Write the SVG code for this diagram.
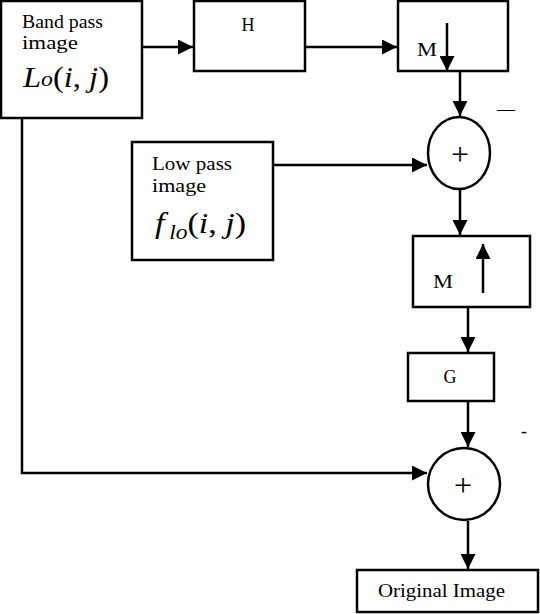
<svg xmlns="http://www.w3.org/2000/svg" width="540" height="614" viewBox="0 0 540 614">
<style>
.box{fill:#fff;stroke:#000;stroke-width:2.5}
.ln{fill:none;stroke:#000;stroke-width:2.5}
.t{font-family:"Liberation Serif",serif;font-size:18px;fill:#000}
.p{font-family:"Liberation Serif",serif;font-size:32px;fill:#000}
.m{font-family:"Liberation Serif",serif;font-style:italic;font-size:29px;fill:#000}
</style>
<defs>
<marker id="ah" viewBox="0 0 10 10" refX="10" refY="5" markerWidth="6" markerHeight="6" orient="auto" markerUnits="strokeWidth">
<path d="M0,0 L10,5 L0,10 z" fill="#000"/>
</marker>
</defs>
<rect width="540" height="614" fill="#fff"/>
<g id="connectors">
<path class="ln" d="M142,47 H193" marker-end="url(#ah)"/>
<path class="ln" d="M305,47 H397" marker-end="url(#ah)"/>
<path class="ln" d="M460,71 V116" marker-end="url(#ah)"/>
<path class="ln" d="M273,165 H427" marker-end="url(#ah)"/>
<path class="ln" d="M460,189 V235" marker-end="url(#ah)"/>
<path class="ln" d="M468,307 V352" marker-end="url(#ah)"/>
<path class="ln" d="M468,401 V447" marker-end="url(#ah)"/>
<path class="ln" d="M22,118 V473 H427" marker-end="url(#ah)"/>
<path class="ln" d="M468,521 V569" marker-end="url(#ah)"/>
</g>
<g id="bandpass">
<rect class="box" x="1" y="1" width="141" height="117"/>
<text class="t" x="22" y="28" textLength="81" lengthAdjust="spacingAndGlyphs">Band pass</text>
<text class="t" x="22" y="49" textLength="56" lengthAdjust="spacingAndGlyphs">image</text>
<text class="m" x="23" y="87" textLength="86" lengthAdjust="spacingAndGlyphs">L<tspan font-size="21" dy="-1">o</tspan><tspan font-style="normal" dy="1">(</tspan>i<tspan font-style="normal">,</tspan> j<tspan font-style="normal">)</tspan></text>
</g>
<g id="H">
<rect class="box" x="194" y="1" width="111" height="70"/>
<text class="t" x="248" y="31" text-anchor="middle">H</text>
</g>
<g id="Mdown">
<rect class="box" x="398" y="1" width="110" height="70"/>
<text class="t" x="417" y="56" textLength="20" lengthAdjust="spacingAndGlyphs">M</text>
<path class="ln" d="M447,23 V71" marker-end="url(#ah)"/>
</g>
<g id="sum1">
<ellipse class="box" cx="459" cy="153" rx="31" ry="36"/>
<text class="p" x="460" y="165" text-anchor="middle">+</text>
<text class="t" x="497" y="115">—</text>
</g>
<g id="lowpass">
<rect class="box" x="132" y="142" width="141" height="118"/>
<text class="t" x="152" y="170" textLength="80" lengthAdjust="spacingAndGlyphs">Low pass</text>
<text class="t" x="152" y="192" textLength="54" lengthAdjust="spacingAndGlyphs">image</text>
<text class="m" x="155" y="233" textLength="91" lengthAdjust="spacingAndGlyphs">f<tspan font-size="20" dy="6" dx="4">lo</tspan><tspan font-style="normal" dy="-6">(</tspan>i<tspan font-style="normal">,</tspan> j<tspan font-style="normal">)</tspan></text>
</g>
<g id="Mup">
<rect class="box" x="413" y="236" width="117" height="71"/>
<text class="t" x="433" y="288" textLength="20" lengthAdjust="spacingAndGlyphs">M</text>
<path class="ln" d="M483,293 V244" marker-end="url(#ah)"/>
</g>
<g id="G">
<rect class="box" x="408" y="353" width="86" height="48"/>
<text class="t" x="450" y="383" text-anchor="middle">G</text>
</g>
<g id="sum2">
<circle class="box" cx="464" cy="484" r="36"/>
<text class="p" x="463" y="496" text-anchor="middle">+</text>
<text class="t" x="521" y="437">-</text>
</g>
<g id="original">
<rect class="box" x="357" y="570" width="181" height="42"/>
<text class="t" x="378" y="597" textLength="127" lengthAdjust="spacingAndGlyphs">Original Image</text>
</g>
</svg>
